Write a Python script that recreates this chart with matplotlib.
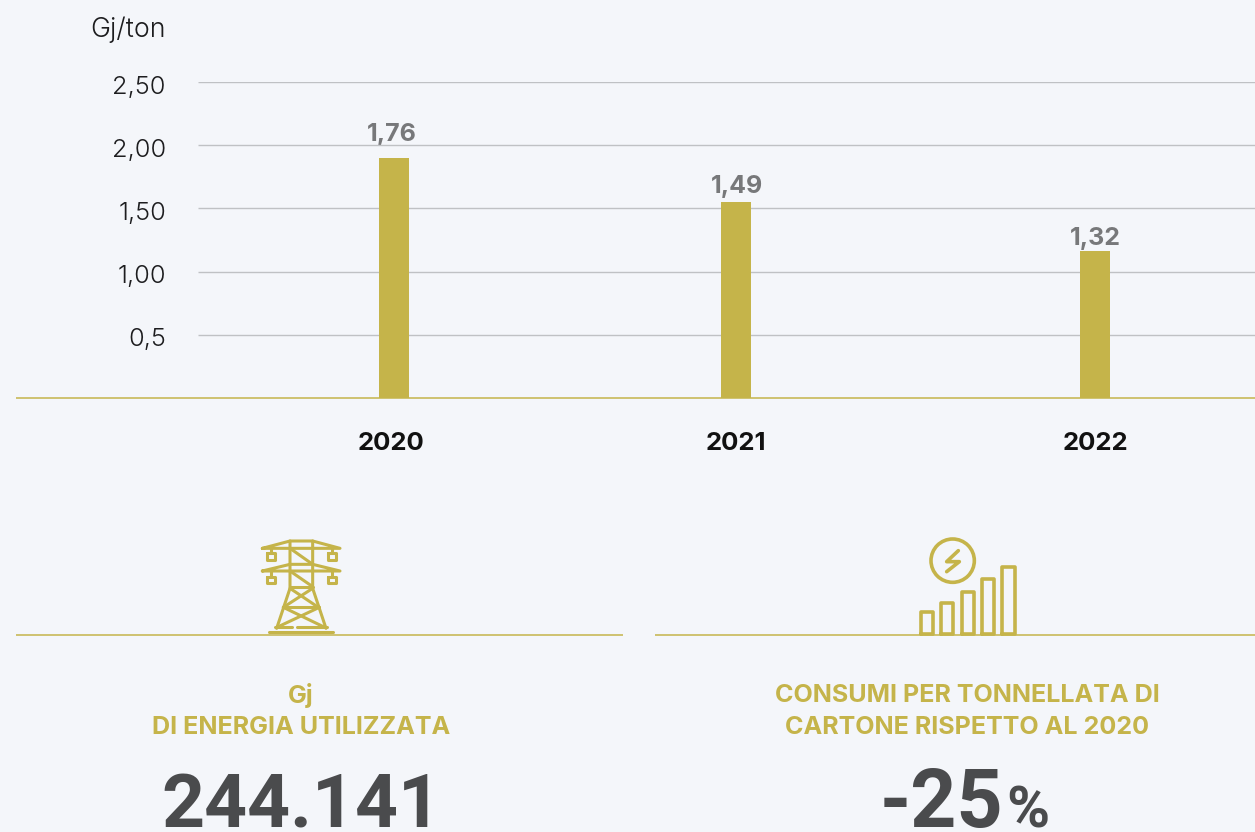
import matplotlib
matplotlib.use('Agg')
import matplotlib.pyplot as plt
from matplotlib.patches import Circle

# data
years = ['2020', '2021', '2022']
bar_heights = [1.90, 1.55, 1.16]   # what the bars actually measure on the axis
bar_labels = ['1,76', '1,49', '1,32']
tick_values = [0.5, 1.0, 1.5, 2.0, 2.5]
tick_labels = ['0,5', '1,00', '1,50', '2,00', '2,50']
unit = 'Gj/ton'
left_title = ['Gj', 'DI ENERGIA UTILIZZATA']
right_title = ['CONSUMI PER TONNELLATA DI', 'CARTONE RISPETTO AL 2020']
left_number = '244.141'
right_number = '-25'

# layout, in pixels of the 1255x832 picture
W, H = 1255, 832
bar_x = [394, 736, 1095]
label_x = [392, 737, 1095]
label_y = [134, 186, 238]
year_x = [391, 736, 1095]
GOLD = '#c5b44a'
BG = '#f4f6fa'
GRID = '#bfc1c4'
DARK = '#4a4b4d'

plt.rcParams['font.family'] = ['Inter', 'DejaVu Sans']

fig = plt.figure(figsize=(W / 100, H / 100), dpi=100, facecolor=BG)

# overlay in pixel coordinates for the text and icons
page = fig.add_axes([0, 0, 1, 1])
page.set_xlim(0, W)
page.set_ylim(H, 0)
page.axis('off')

# bar chart: y=0 is at pixel 398, 2.5 is at pixel 82
ax = fig.add_axes([0, (H - 398) / H, 1, (398 - 82) / H])
ax.patch.set_alpha(0)
ax.set_xlim(0, W)
ax.set_ylim(0, 2.5)
ax.axis('off')
ax.hlines(tick_values, 198, W, color=GRID, lw=1.0, zorder=1)
ax.bar(bar_x, bar_heights, width=30, color=GOLD, zorder=2)

page.plot([15.5, W], [398.3, 398.3], color=GOLD, lw=1.1, zorder=5, solid_capstyle='butt')

for v, lab in zip(tick_values, tick_labels):
    page.text(166, 398 - v * 126.4 + 5, lab, ha='right', va='center', fontsize=18.3, weight=300, color='#1d1d1f')
page.text(166, 30, unit, ha='right', va='center', fontsize=19.3, weight=300, color='#1d1d1f')

for x, lab, y in zip(label_x, bar_labels, label_y):
    page.text(x, y, lab, ha='center', va='center', fontsize=18, weight='bold', color='#77787a')
for x, yr in zip(year_x, years):
    page.text(x, 443, yr, ha='center', va='center', fontsize=18.5, weight='bold', color='#111111')

# rules under the icons
page.plot([15.5, 623], [634.5, 634.5], color=GOLD, lw=1.1, solid_capstyle='butt')
page.plot([654.5, W], [634.5, 634.5], color=GOLD, lw=1.1, solid_capstyle='butt')


def zoomed(segments, x0, y0, lw=2.2):
    for seg in segments:
        xs = [x0 + p[0] / 3 for p in seg]
        ys = [y0 + p[1] / 3 for p in seg]
        page.plot(xs, ys, color=GOLD, lw=lw, solid_capstyle='round', solid_joinstyle='round')


tower = [
    [(67, 55), (150, 33), (218, 33), (300, 55), (67, 55)],
    [(67, 123), (150, 103), (218, 103), (300, 123), (67, 123)],
    [(150, 33), (150, 175), (110, 295)],
    [(218, 33), (218, 175), (258, 295)],
    [(150, 55), (218, 103)],
    [(150, 123), (218, 170)],
    [(150, 172), (218, 172)],
    [(150, 175), (235, 232)],
    [(218, 175), (130, 232)],
    [(130, 232), (238, 232)],
    [(130, 232), (250, 290)],
    [(238, 232), (115, 290)],
    [(105, 290), (155, 290)],
    [(170, 290), (262, 290)],
    [(88, 305), (278, 305)],
    [(92, 55), (92, 70)],
    [(275, 55), (275, 70)],
    [(92, 123), (92, 140)],
    [(275, 123), (275, 140)],
    [(80, 70), (105, 70), (105, 91), (80, 91), (80, 70)],
    [(263, 70), (288, 70), (288, 91), (263, 91), (263, 70)],
    [(80, 140), (105, 140), (105, 160), (80, 160), (80, 140)],
    [(263, 140), (288, 140), (288, 160), (263, 160), (263, 140)],
]
zoomed(tower, 240, 530)

bars_icon = [(62, 247, 98), (124, 219, 160), (185, 187, 221), (246, 147, 283), (307, 112, 344)]
for left, top, right in bars_icon:
    zoomed([[(left, 312), (left, top), (right, top), (right, 312), (left, 312)]], 900, 530, lw=2.6)
page.add_patch(Circle((900 + 158 / 3, 530 + 92 / 3), 65 / 3, fill=False, ec=GOLD, lw=2.6))
zoomed([[(175, 62), (140, 95), (178, 95), (140, 125)]], 900, 530, lw=2.6)

# captions
for txt, y in zip(left_title, [695, 728]):
    page.text(301, y, txt, ha='center', va='center', fontsize=18.1, weight='bold', color=GOLD)
for txt, y in zip(right_title, [695, 728]):
    page.text(967, y, txt, ha='center', va='center', fontsize=18.1, weight='bold', color=GOLD)

# big numbers, they sit right at the bottom edge like the source
page.text(301, 827, left_number, ha='center', va='baseline', fontsize=54, weight='bold', family='Roboto', color=DARK)
page.text(880, 827, right_number, ha='left', va='baseline', fontsize=58, weight='bold', family='Roboto', color=DARK)
page.text(1006, 827, '%', ha='left', va='baseline', fontsize=42, weight='bold', family='Roboto', color=DARK)

fig.savefig('out.png', dpi=100, facecolor=BG)
